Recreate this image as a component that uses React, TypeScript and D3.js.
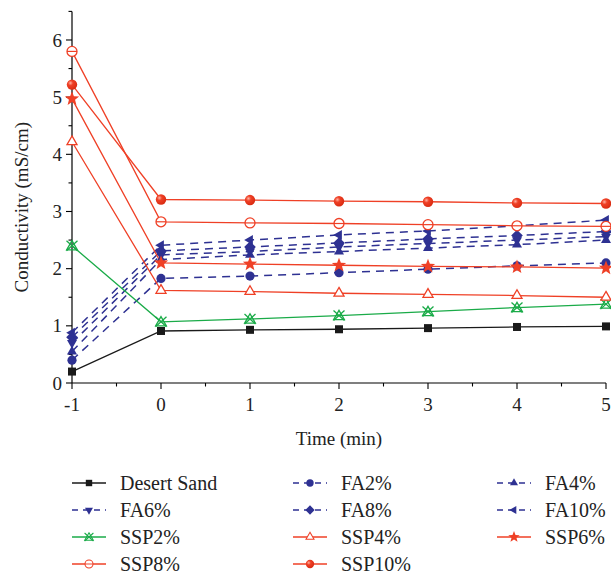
import React from "react";
import * as d3 from "d3";

const TIMES = [-1, 0, 1, 2, 3, 4, 5];
const X_TICKS = [-1, 0, 1, 2, 3, 4, 5];
const Y_TICKS = [0, 1, 2, 3, 4, 5, 6];

const DESERT_SAND = [0.2, 0.91, 0.93, 0.94, 0.96, 0.98, 0.99];
const FA2 = [0.4, 1.83, 1.87, 1.93, 1.99, 2.05, 2.1];
const FA4 = [0.55, 2.16, 2.24, 2.3, 2.36, 2.42, 2.5];
const FA6 = [0.7, 2.24, 2.3, 2.38, 2.44, 2.5, 2.56];
const FA8 = [0.8, 2.31, 2.38, 2.45, 2.52, 2.58, 2.65];
const FA10 = [0.88, 2.41, 2.5, 2.59, 2.66, 2.75, 2.85];
const SSP2 = [2.4, 1.07, 1.12, 1.18, 1.25, 1.32, 1.38];
const SSP4 = [4.22, 1.62, 1.6, 1.57, 1.55, 1.53, 1.5];
const SSP6 = [4.97, 2.1, 2.08, 2.06, 2.04, 2.03, 2.01];
const SSP8 = [5.8, 2.82, 2.8, 2.79, 2.77, 2.75, 2.74];
const SSP10 = [5.22, 3.21, 3.2, 3.18, 3.17, 3.15, 3.14];

const BLACK = "#1a1a1a";
const BLUE = "#2e3192";
const GREEN = "#1aab48";
const RED = "#ef4026";

type Marker =
  | "square" | "circle" | "triUp" | "triDown" | "diamond" | "triLeft"
  | "crossTri" | "openTri" | "star" | "openCircle" | "ball";

interface Series { name: string; values: number[]; color: string; dashed: boolean; marker: Marker; }

const SERIES: Series[] = [
  { name: "Desert Sand", values: DESERT_SAND, color: BLACK, dashed: false, marker: "square" },
  { name: "FA2%", values: FA2, color: BLUE, dashed: true, marker: "circle" },
  { name: "FA4%", values: FA4, color: BLUE, dashed: true, marker: "triUp" },
  { name: "FA6%", values: FA6, color: BLUE, dashed: true, marker: "triDown" },
  { name: "FA8%", values: FA8, color: BLUE, dashed: true, marker: "diamond" },
  { name: "FA10%", values: FA10, color: BLUE, dashed: true, marker: "triLeft" },
  { name: "SSP2%", values: SSP2, color: GREEN, dashed: false, marker: "crossTri" },
  { name: "SSP4%", values: SSP4, color: RED, dashed: false, marker: "openTri" },
  { name: "SSP6%", values: SSP6, color: RED, dashed: false, marker: "star" },
  { name: "SSP8%", values: SSP8, color: RED, dashed: false, marker: "openCircle" },
  { name: "SSP10%", values: SSP10, color: RED, dashed: false, marker: "ball" },
];

function tri(r: number, angle: number): string {
  const pts = [0, 1, 2].map((i) => {
    const a = angle + (i * 2 * Math.PI) / 3;
    return [r * Math.cos(a), r * Math.sin(a)];
  });
  return "M" + pts.map((p) => p[0].toFixed(2) + "," + p[1].toFixed(2)).join("L") + "Z";
}

function starPath(ro: number, ri: number): string {
  const pts: string[] = [];
  for (let i = 0; i < 10; i++) {
    const r = i % 2 === 0 ? ro : ri;
    const a = -Math.PI / 2 + (i * Math.PI) / 5;
    pts.push((r * Math.cos(a)).toFixed(2) + "," + (r * Math.sin(a)).toFixed(2));
  }
  return "M" + pts.join("L") + "Z";
}

function MarkerShape({ type, color, x, y, k = 1 }: { type: Marker; color: string; x: number; y: number; k?: number }) {
  const t = `translate(${x},${y}) scale(${k})`;
  switch (type) {
    case "square":
      return <rect transform={t} x={-4} y={-4} width={8} height={8} fill={color} />;
    case "circle":
      return <circle transform={t} r={4.6} fill={color} />;
    case "triUp":
      return <path transform={t} d={tri(5.8, -Math.PI / 2)} fill={color} />;
    case "triDown":
      return <path transform={t} d={tri(5.8, Math.PI / 2)} fill={color} />;
    case "triLeft":
      return <path transform={t} d={tri(5.8, Math.PI)} fill={color} />;
    case "diamond":
      return <path transform={t} d="M0,-5.8L5.8,0L0,5.8L-5.8,0Z" fill={color} />;
    case "crossTri":
      return (
        <g transform={t} fill="none" stroke={color} strokeWidth={1.3}>
          <path d={tri(6.2, -Math.PI / 2)} transform="translate(0,1)" />
          <path d="M-5.5,-5L5.5,5M-5.5,5L5.5,-5" />
        </g>
      );
    case "openTri":
      return <path transform={t} d={tri(5.8, -Math.PI / 2)} fill="white" stroke={color} strokeWidth={1.3} />;
    case "star":
      return <path transform={t} d={starPath(7.5, 3.2)} fill={color} />;
    case "openCircle":
      return (
        <g transform={t}>
          <circle r={5} fill="white" stroke={color} strokeWidth={1.3} />
          <line x1={-5} x2={5} y1={0} y2={0} stroke={color} strokeWidth={1.2} />
        </g>
      );
    case "ball":
      return <circle transform={t} r={5.2} fill="url(#ballGrad)" />;
  }
  return null;
}

const W = 611;
const H = 575;
const M = { left: 72, right: 606, top: 11.4, bottom: 383 };
const FONT = "'Liberation Serif', 'Times New Roman', 'DejaVu Serif', serif";
const TXT = { fontFamily: FONT };

export default function App() {
  const x = d3.scaleLinear().domain([-1, 5]).range([M.left, M.right]);
  const y = d3.scaleLinear().domain([0, 6.5]).range([M.bottom, M.top]);
  const line = d3.line<number>().x((_, i) => x(TIMES[i])).y((v) => y(v));

  const xMinor = d3.range(-1, 5.01, 0.5);
  const yMinor = d3.range(0, 6.51, 0.5);

  const legendCols = [72, 293, 497];
  const legendRows = [483, 510, 537, 564];

  return (
    <svg width={W} height={H} style={{ position: "absolute", left: 0, top: 0, background: "white" }}>
      <defs>
        <radialGradient id="ballGrad" cx="0.35" cy="0.35" r="0.7">
          <stop offset="0" stopColor="#ffb0a0" />
          <stop offset="0.35" stopColor={RED} />
          <stop offset="1" stopColor="#d82a10" />
        </radialGradient>
      </defs>

      {/* axes */}
      <line x1={M.left} x2={M.left} y1={M.top} y2={M.bottom} stroke="#000" strokeWidth={1.2} />
      <line x1={M.left} x2={M.right} y1={M.bottom} y2={M.bottom} stroke="#000" strokeWidth={1.2} />
      {yMinor.map((v) => (
        <line key={"ym" + v} x1={M.left} x2={M.left - (Number.isInteger(v) ? 6 : 3.5)} y1={y(v)} y2={y(v)} stroke="#000" strokeWidth={1.1} />
      ))}
      {xMinor.map((v) => (
        <line key={"xm" + v} x1={x(v)} x2={x(v)} y1={M.bottom} y2={M.bottom + (Number.isInteger(v) ? 6 : 3.5)} stroke="#000" strokeWidth={1.1} />
      ))}
      {Y_TICKS.map((v) => (
        <text key={"yt" + v} style={TXT} x={M.left - 10} y={y(v)} dy="0.35em" textAnchor="end" fontSize={19} fill="#222">{v}</text>
      ))}
      {X_TICKS.map((v) => (
        <text key={"xt" + v} style={TXT} x={x(v)} y={M.bottom + 28} textAnchor="middle" fontSize={19} fill="#222">{v}</text>
      ))}
      <text style={TXT} x={(M.left + M.right) / 2} y={445} textAnchor="middle" fontSize={19} fill="#222">Time (min)</text>
      <text style={TXT} transform={`translate(28,${(M.top + M.bottom) / 2 + 10}) rotate(-90)`} textAnchor="middle" fontSize={19} fill="#222">Conductivity (mS/cm)</text>

      {/* lines */}
      {SERIES.map((s) => (
        <path key={"l" + s.name} d={line(s.values) || ""} fill="none" stroke={s.color} strokeWidth={s.dashed ? 1.5 : 1.3} strokeDasharray={s.dashed ? "8,6" : undefined} />
      ))}
      {/* markers */}
      {SERIES.map((s) => (
        <g key={"m" + s.name}>
          {s.values.map((v, i) => (
            <MarkerShape key={i} type={s.marker} color={s.color} x={x(TIMES[i])} y={y(v)} />
          ))}
        </g>
      ))}

      {/* legend */}
      {SERIES.map((s, i) => {
        const lx = legendCols[i % 3];
        const ly = legendRows[Math.floor(i / 3)];
        return (
          <g key={"lg" + s.name}>
            <line x1={lx} x2={lx + 34} y1={ly} y2={ly} stroke={s.color} strokeWidth={1.3} strokeDasharray={s.dashed ? "6,5" : undefined} />
            <MarkerShape type={s.marker} color={s.color} x={lx + 17} y={ly} k={0.8} />
            <text style={TXT} x={lx + 48} y={ly} dy="0.35em" fontSize={20} fill="#222">{s.name}</text>
          </g>
        );
      })}
    </svg>
  );
}
